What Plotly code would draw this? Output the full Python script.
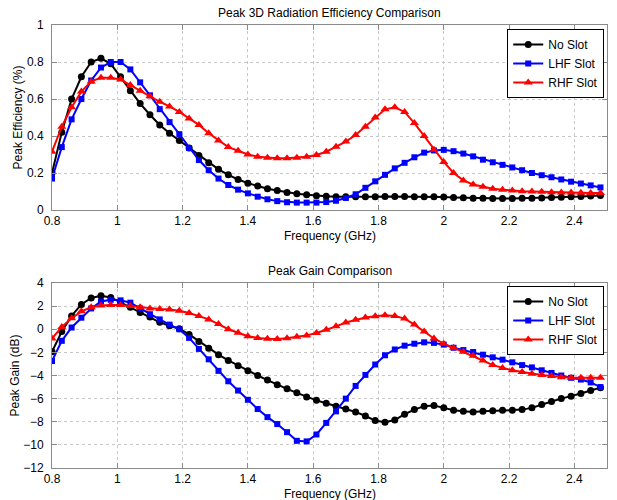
import plotly.graph_objects as go

freq = [0.80, 0.83, 0.86, 0.89, 0.92, 0.95, 0.98, 1.01, 1.04, 1.07, 1.10, 1.13, 1.16, 1.19,
        1.22, 1.25, 1.28, 1.31, 1.34, 1.37, 1.40, 1.43, 1.46, 1.49, 1.52, 1.55, 1.58, 1.61,
        1.64, 1.67, 1.70, 1.73, 1.76, 1.79, 1.82, 1.85, 1.88, 1.91, 1.94, 1.97, 2.00, 2.03,
        2.06, 2.09, 2.12, 2.15, 2.18, 2.21, 2.24, 2.27, 2.30, 2.33, 2.36, 2.39, 2.42, 2.45, 2.48]

eff_no_slot = [0.20, 0.42, 0.60, 0.72, 0.80, 0.82, 0.79, 0.72, 0.645, 0.575, 0.515, 0.46, 0.415, 0.375,
               0.335, 0.295, 0.255, 0.22, 0.19, 0.165, 0.145, 0.13, 0.115, 0.105, 0.095, 0.088, 0.082, 0.077,
               0.074, 0.072, 0.071, 0.071, 0.072, 0.072, 0.073, 0.073, 0.073, 0.072, 0.072, 0.071, 0.070, 0.068,
               0.066, 0.064, 0.063, 0.062, 0.062, 0.062, 0.063, 0.064, 0.065, 0.067, 0.069, 0.071, 0.073, 0.076, 0.078]
eff_lhf_slot = [0.17, 0.34, 0.49, 0.60, 0.70, 0.77, 0.80, 0.80, 0.76, 0.69, 0.62, 0.545, 0.475, 0.41,
                0.335, 0.27, 0.215, 0.17, 0.135, 0.11, 0.09, 0.072, 0.058, 0.048, 0.042, 0.04, 0.04, 0.04,
                0.043, 0.05, 0.065, 0.085, 0.12, 0.155, 0.19, 0.225, 0.255, 0.285, 0.31, 0.322, 0.325, 0.318,
                0.305, 0.29, 0.272, 0.258, 0.244, 0.23, 0.215, 0.2, 0.188, 0.177, 0.165, 0.153, 0.143, 0.133, 0.122]
eff_rhf_slot = [0.315, 0.45, 0.555, 0.64, 0.695, 0.715, 0.715, 0.705, 0.675, 0.645, 0.615, 0.585, 0.56, 0.53,
                0.495, 0.46, 0.415, 0.375, 0.34, 0.32, 0.30, 0.288, 0.283, 0.28, 0.28, 0.283, 0.288, 0.297,
                0.315, 0.342, 0.37, 0.405, 0.45, 0.50, 0.544, 0.555, 0.53, 0.47, 0.40, 0.325, 0.26, 0.20,
                0.16, 0.138, 0.125, 0.115, 0.11, 0.105, 0.102, 0.10, 0.098, 0.096, 0.095, 0.094, 0.093, 0.092, 0.092]

gain_no_slot = [-1.95, -0.2, 1.15, 2.15, 2.7, 2.9, 2.75, 2.35, 1.9, 1.45, 1.05, 0.6, 0.3, 0.05,
                -0.45, -1.05, -1.65, -2.2, -2.7, -3.15, -3.6, -4.0, -4.4, -4.8, -5.15, -5.5, -5.85, -6.15,
                -6.4, -6.65, -6.9, -7.15, -7.5, -7.9, -8.05, -7.85, -7.35, -6.95, -6.65, -6.6, -6.8, -7.0,
                -7.1, -7.15, -7.1, -7.05, -7.0, -7.0, -6.95, -6.8, -6.5, -6.25, -6.0, -5.8, -5.55, -5.3, -5.05]
gain_lhf_slot = [-2.75, -1.0, 0.15, 1.0, 1.8, 2.4, 2.55, 2.5, 2.3, 1.8, 1.3, 0.85, 0.4, 0.0,
                 -0.75, -1.7, -2.6, -3.6, -4.5, -5.3, -6.1, -6.9, -7.6, -8.2, -8.9, -9.65, -9.7, -9.1,
                 -8.1, -7.1, -6.0, -4.9, -3.95, -3.05, -2.25, -1.75, -1.42, -1.25, -1.13, -1.18, -1.33, -1.6,
                 -1.8, -1.97, -2.2, -2.43, -2.63, -2.86, -3.1, -3.3, -3.55, -3.78, -4.0, -4.2, -4.35, -4.6, -5.0]
gain_rhf_slot = [-0.8, 0.2, 0.95, 1.55, 1.9, 2.05, 2.1, 2.1, 2.0, 1.9, 1.8, 1.75, 1.7, 1.6,
                 1.4, 1.15, 0.85, 0.45, 0.0, -0.3, -0.6, -0.75, -0.83, -0.84, -0.78, -0.65, -0.53, -0.33,
                 -0.05, 0.25, 0.58, 0.82, 1.02, 1.12, 1.2, 1.15, 0.92, 0.4, -0.2, -0.8, -1.25, -1.6,
                 -1.95, -2.3, -2.7, -3.1, -3.35, -3.55, -3.7, -3.85, -3.95, -4.05, -4.15, -4.2, -4.2, -4.2, -4.2]

series_names = ["No Slot", "LHF Slot", "RHF Slot"]
colors = ["#000000", "#0000ff", "#ff0000"]
symbols = ["circle", "square", "triangle-up"]
msizes = [7, 6, 8]

x_ticks = [0.8, 1.0, 1.2, 1.4, 1.6, 1.8, 2.0, 2.2, 2.4]
x_ticktext = ["0.8", "1", "1.2", "1.4", "1.6", "1.8", "2", "2.2", "2.4"]
eff_ticks = [0, 0.2, 0.4, 0.6, 0.8, 1]
eff_ticktext = ["0", "0.2", "0.4", "0.6", "0.8", "1"]
gain_ticks = [-12, -10, -8, -6, -4, -2, 0, 2, 4]

FONT = "Liberation Sans, Arial, Helvetica, sans-serif"

fig = go.Figure()
for name, ys, c, s, ms in zip(series_names, [eff_no_slot, eff_lhf_slot, eff_rhf_slot], colors, symbols, msizes):
    fig.add_trace(go.Scatter(x=freq, y=ys, name=name, mode="lines+markers",
                             line=dict(color=c, width=2), marker=dict(color=c, symbol=s, size=ms),
                             xaxis="x", yaxis="y", legend="legend"))
for name, ys, c, s, ms in zip(series_names, [gain_no_slot, gain_lhf_slot, gain_rhf_slot], colors, symbols, msizes):
    fig.add_trace(go.Scatter(x=freq, y=ys, name=name, mode="lines+markers",
                             line=dict(color=c, width=2), marker=dict(color=c, symbol=s, size=ms),
                             xaxis="x2", yaxis="y2", legend="legend2"))

axis_common = dict(showline=True, linecolor="#8a8a8a", linewidth=1, mirror="ticks",
                   ticks="inside", ticklen=5, tickcolor="#8a8a8a", automargin=False,
                   showgrid=True, gridcolor="#c8c8c8", griddash="dot", gridwidth=1,
                   zeroline=False, tickfont=dict(size=12, color="#000000", family=FONT))

top_dom = [0.5824, 1.0]
bot_dom = [0.0, 0.4176]

legend_common = dict(bgcolor="white", bordercolor="#000000", borderwidth=1,
                     font=dict(size=12, family=FONT, color="#000"), xanchor="right", yanchor="top",
                     x=0.995, itemwidth=30, tracegroupgap=0)

def label(text, y, yshift, yanchor="bottom"):
    return dict(text=text, xref="paper", yref="paper", x=0.5, y=y, yshift=yshift,
                xanchor="center", yanchor=yanchor, showarrow=False, font=dict(size=12, family=FONT))

fig.update_layout(
    width=617, height=500,
    margin=dict(l=52, r=10, t=25, b=32, autoexpand=False),
    paper_bgcolor="white", plot_bgcolor="white",
    font=dict(family=FONT, size=12, color="#000"),
    xaxis=dict(axis_common, domain=[0, 1], range=[0.8, 2.5], tickvals=x_ticks, ticktext=x_ticktext,
               anchor="y", ticklabelstandoff=0),
    yaxis=dict(axis_common, domain=top_dom, range=[0, 1], tickvals=eff_ticks, ticktext=eff_ticktext,
               anchor="x", ticklabelstandoff=5,
               title=dict(text="Peak Efficiency (%)", standoff=1, font=dict(size=12))),
    xaxis2=dict(axis_common, domain=[0, 1], range=[0.8, 2.5], tickvals=x_ticks, ticktext=x_ticktext,
                anchor="y2", ticklabelstandoff=0),
    yaxis2=dict(axis_common, domain=bot_dom, range=[-12, 4], tickvals=gain_ticks,
                anchor="x2", ticklabelstandoff=5,
                title=dict(text="Peak Gain (dB)", standoff=1, font=dict(size=12))),
    legend=dict(legend_common, y=0.991),
    legend2=dict(legend_common, y=0.4108),
    annotations=[
        label("Peak 3D Radiation Efficiency Comparison", 1.0, 3),
        label("Peak Gain Comparison", 0.4176, 3),
        label("Frequency (GHz)", top_dom[0], -17, "top"),
        label("Frequency (GHz)", bot_dom[0], -17, "top"),
    ],
)

fig.write_html("out.html")
